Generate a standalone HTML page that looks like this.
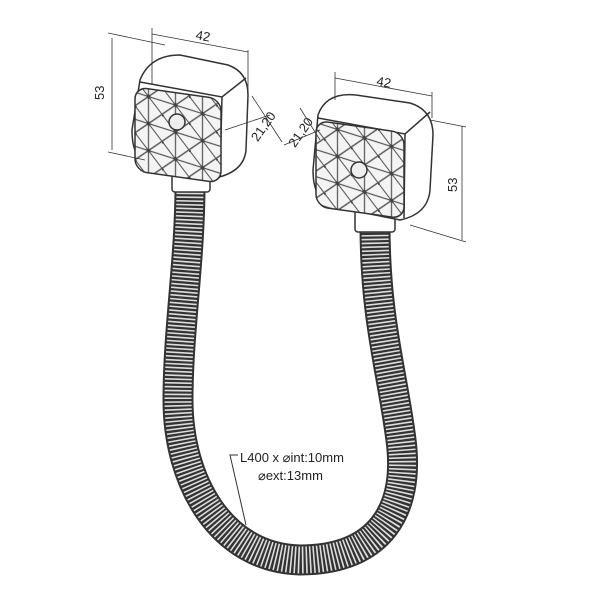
<!DOCTYPE html>
<html><head><style>body{margin:0;background:#fff}svg{display:block}</style></head><body>
<svg width="600" height="600" viewBox="0 0 600 600" xmlns="http://www.w3.org/2000/svg" font-family="Liberation Sans, sans-serif">
<defs>
<pattern id="grid" width="27" height="27" patternUnits="userSpaceOnUse" patternTransform="skewY(10)">
<rect width="27" height="27" fill="#f4f4f4"/>
<path d="M0,0L27,27M27,0L0,27M13.5,0V27M0,13.5H27" stroke="#555" stroke-width="1.2"/>
<circle cx="0" cy="0" r="2" fill="#444"/><circle cx="13.5" cy="13.5" r="2" fill="#444"/>
</pattern>
</defs>
<!-- hose -->
<g fill="none">
<path d="M190,185 C190,260 178,330 178,400 C178,480 220,558 300,560 C380,560 410,510 401,440 C392,370 375,320 375,225" stroke="#333" stroke-width="31"/>
<path d="M190,185 C190,260 178,330 178,400 C178,480 220,558 300,560 C380,560 410,510 401,440 C392,370 375,320 375,225" stroke="#ddd" stroke-width="27" stroke-dasharray="1.6 2.2"/>
</g>
<!-- leader -->
<path d="M246,525 L230,455 L238,455" stroke="#333" fill="none" stroke-width="1"/>
<text x="240" y="462" font-size="13" fill="#222">L400 x ⌀int:10mm</text>
<text x="258" y="480" font-size="13" fill="#222">⌀ext:13mm</text>
<!-- left head -->
<g stroke="#333" stroke-width="1.5" fill="#fff">
<rect x="172" y="170" width="38" height="22" rx="3"/>
<path d="M140,80 Q150,55 180,55 L228,65 Q248,72 248,95 L246,150 Q244,172 215,178 L150,165 Q132,160 132,130 Z"/>
<path d="M140,82 L222,97 L246,78" fill="none"/>
<path d="M222,97 L220,175" fill="none"/>
<rect x="135" y="86" width="86" height="84" rx="12" fill="url(#grid)" transform="skewY(8) translate(0,-18)"/>
<circle cx="177" cy="122" r="8" fill="#eee"/>
</g>
<!-- right head -->
<g stroke="#333" stroke-width="1.5" fill="#fff">
<rect x="355" y="210" width="40" height="22" rx="3"/>
<path d="M318,115 Q326,92 356,95 L410,103 Q433,110 433,135 L430,190 Q428,214 400,220 L335,207 Q313,202 313,170 Z"/>
<path d="M318,118 L405,134 L430,112" fill="none"/>
<path d="M405,134 L404,218" fill="none"/>
<rect x="316" y="121" width="88" height="86" rx="12" fill="url(#grid)" transform="skewY(8) translate(0,-45)"/>
<circle cx="359" cy="170" r="8" fill="#eee"/>
</g>
<!-- dimensions -->
<g stroke="#333" stroke-width="0.8" fill="none">
<path d="M152,28 L152,85 M248,50 L248,90 M152,34 L248,52"/>
<path d="M108,33 L165,45 M108,152 L145,160 M112,38 L112,150"/>
<path d="M225,130 L270,115 M252,96 L282,142"/>
<path d="M300,108 L320,140 M284,145 L320,130"/>
<path d="M335,72 L335,100 M432,92 L432,118 M335,78 L432,96"/>
<path d="M430,120 L466,127 M410,225 L466,242 M462,126 L462,240"/>
</g>
<text x="195" y="40" font-size="13" fill="#222" transform="rotate(10 200 40)">42</text>
<text x="376" y="86" font-size="13" fill="#222" transform="rotate(10 380 86)">42</text>
<text x="104" y="100" font-size="13" fill="#222" transform="rotate(-90 104 100)">53</text>
<text x="457" y="192" font-size="13" fill="#222" transform="rotate(-90 457 192)">53</text>
<text x="246" y="140" font-size="13" fill="#222" transform="rotate(-55 254 130)">21,20</text>
<text x="283" y="145" font-size="13" fill="#222" transform="rotate(-55 292 135)">21,20</text>
</svg>
</body></html>
